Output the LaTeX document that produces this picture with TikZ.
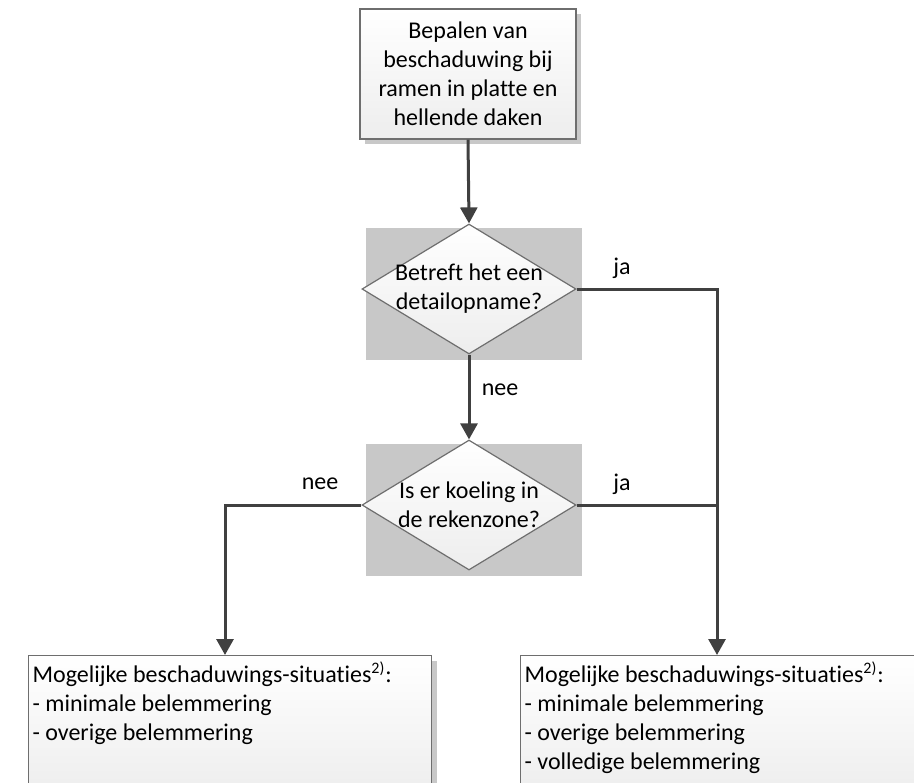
\documentclass[tikz,border=0pt]{standalone}
\usepackage{fontspec}
\setmainfont[Ligatures=NoCommon]{Carlito}
\usetikzlibrary{shapes.geometric,arrows.meta,calc,shadows,backgrounds}

\definecolor{lijn}{HTML}{404040}
\definecolor{rand}{HTML}{6E6E6E}
\definecolor{schaduw}{HTML}{C8C8C8}

\begin{document}
\begin{tikzpicture}[x=0.5pt,y=-0.5pt,
    tekst/.style={font=\fontsize{12}{14.5}\selectfont},
    vlak/.style={draw=rand, line width=0.6pt, top color=white, bottom color=black!7},
    schaduwrand/.style={drop shadow={shadow xshift=2.5pt, shadow yshift=-2.5pt, fill=schaduw, opacity=1}},
    stap/.style={tekst, vlak, schaduwrand, minimum width=108pt, minimum height=65pt, align=center, inner sep=0pt},
    keuze/.style={tekst, vlak, diamond, aspect=1.65, minimum width=107pt, minimum height=65pt, inner xsep=-12pt, inner ysep=0pt, align=center},
    uitkomst/.style={tekst, vlak, schaduwrand, anchor=north west, inner xsep=2pt, inner ysep=3pt},
    flow/.style={draw=lijn, line width=1.5pt, -{Triangle[width=8.5pt,length=8pt]}},
    verbind/.style={draw=lijn, line width=1.5pt}]
    \useasboundingbox (0,0) rectangle (914,782);

    \node[stap] (start) at (468,74) {Bepalen van\\beschaduwing bij\\ramen in platte en\\hellende daken};
    \node[keuze] (detail) at (469,289) {Betreft het een\\detailopname?};
    \node[keuze] (koeling) at (469,505) {Is er koeling in\\de rekenzone?};

    \begin{scope}[on background layer]
        \fill[schaduw] ($(detail.west |- detail.north)+(5,5)$) rectangle ($(detail.east |- detail.south)+(5,5)$);
        \fill[schaduw] ($(koeling.west |- koeling.north)+(5,5)$) rectangle ($(koeling.east |- koeling.south)+(5,5)$);
    \end{scope}

    \node[uitkomst] (beperkt) at (28,655) {\parbox[t][65pt][t]{197.5pt}{\raggedright Mogelijke beschaduwings-situaties\textsuperscript{2)}:\\- minimale belemmering\\- overige belemmering}};
    \node[uitkomst] (volledig) at (520,655) {\parbox[t][65pt][t]{206pt}{\raggedright Mogelijke beschaduwings-situaties\textsuperscript{2)}:\\- minimale belemmering\\- overige belemmering\\- volledige belemmering}};

    \coordinate (jaeind) at (717,655);
    \coordinate (neeeind) at (225,655);

    \draw[flow] (start.south) -- (detail.north);
    \draw[flow] (detail.south) -- (koeling.north);
    \draw[flow] (detail.east) -| (jaeind);
    \draw[verbind] (koeling.east) -- (koeling.east -| jaeind);
    \draw[flow] (koeling.west) -| (neeeind);

    \node[tekst] (ja1) at (622,268) {ja};
    \node[tekst] (nee1) at (500,390) {nee};
    \node[tekst] (nee2) at (320,484) {nee};
    \node[tekst] (ja2) at (622,484) {ja};
\end{tikzpicture}
\end{document}
